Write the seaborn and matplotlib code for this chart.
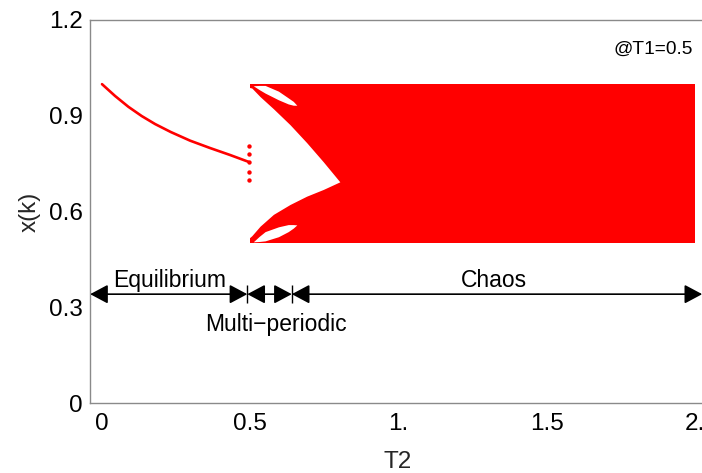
import matplotlib
matplotlib.use("Agg")
import matplotlib.pyplot as plt
import seaborn as sns

# ---------------- data ----------------
# equilibrium branch
eq_T2 = [0.0, 0.044, 0.089, 0.134, 0.179, 0.232, 0.297, 0.364, 0.432, 0.493]
eq_x = [0.999, 0.962, 0.928, 0.899, 0.874, 0.849, 0.822, 0.799, 0.777, 0.756]
# points at the onset of multi-periodic behaviour
mp_T2 = [0.497, 0.497, 0.497, 0.497, 0.497]
mp_x = [0.805, 0.780, 0.755, 0.725, 0.698]
# envelope of the chaotic attractor
chaos_T2 = [0.5, 2.0]
chaos_lo = [0.5, 0.5]
chaos_hi = [1.0, 1.0]
# empty wedge between the two bands
gap_T2 = [0.49, 0.505, 0.533, 0.578, 0.634, 0.690, 0.746, 0.802]
gap_lo = [0.512, 0.524, 0.554, 0.591, 0.622, 0.648, 0.669, 0.693]
gap_hi = [0.990, 0.987, 0.960, 0.922, 0.872, 0.816, 0.756, 0.693]
# empty "eyes" inside the bands
eye_T2 = [0.510, 0.530, 0.550, 0.595, 0.628, 0.645, 0.657]
eye_up_top = [0.994, 0.995, 0.995, 0.977, 0.956, 0.945, 0.933]
eye_up_bot = [0.994, 0.982, 0.971, 0.950, 0.937, 0.933, 0.933]
eye_lo_top = [0.505, 0.522, 0.537, 0.552, 0.559, 0.559, 0.558]
eye_lo_bot = [0.505, 0.506, 0.508, 0.521, 0.537, 0.548, 0.558]
# regime annotation
regime_bounds = [-0.04, 0.49, 0.64, 2.024]
regime_labels = ["Equilibrium", "Multi\u2212periodic", "Chaos"]
regime_label_T2 = [0.229, 0.586, 1.322]
regime_label_y = [0.3625, 0.2256, 0.3625]
arrow_y = 0.341
xticks = [0, 0.5, 1, 1.5, 2]
xticklabels = ["0", "0.5", "1.", "1.5", "2."]
yticks = [0, 0.3, 0.6, 0.9, 1.2]
yticklabels = ["0", "0.3", "0.6", "0.9", "1.2"]

# ---------------- drawing ----------------
sns.set_style("white")
plt.rcParams["font.family"] = ["Liberation Sans", "DejaVu Sans"]

RED = "#ff0000"
GRAY = "#8a8a8a"
FS = 16.5
TFS = 17.5

fig = plt.figure(figsize=(7.02, 4.73), dpi=100)
ax = fig.add_axes([90 / 702, 70 / 473, 630 / 702, 383 / 473])

ax.fill_between(chaos_T2, chaos_lo, chaos_hi, color=RED, lw=0, zorder=2)
ax.fill_between(gap_T2, gap_lo, gap_hi, color="white", lw=0, zorder=3)
ax.fill_between(eye_T2, eye_up_bot, eye_up_top, color="white", lw=0, zorder=3)
ax.fill_between(eye_T2, eye_lo_bot, eye_lo_top, color="white", lw=0, zorder=3)

sns.lineplot(x=eq_T2, y=eq_x, color=RED, lw=1.9, ax=ax, zorder=4)
sns.scatterplot(x=mp_T2, y=mp_x, color=RED, s=10, linewidth=0, ax=ax, zorder=4)

# regime arrows
for a, b in zip(regime_bounds[:-1], regime_bounds[1:]):
    ax.annotate("", xy=(b, arrow_y), xytext=(a, arrow_y),
                arrowprops=dict(arrowstyle="<|-|>,head_length=0.75,head_width=0.4",
                                color="black", lw=1.2, shrinkA=0, shrinkB=0,
                                mutation_scale=14.5),
                zorder=5, annotation_clip=False)
ax.plot(regime_bounds[1:3], [arrow_y] * 2, linestyle="none", marker="|",
        markersize=13, mew=1.0, color="black", zorder=6)
for lab, tx, ty in zip(regime_labels, regime_label_T2, regime_label_y):
    ax.text(tx, ty, lab, ha="center", va="baseline", fontsize=FS, color="black")

ax.text(1.993, 1.0955, "@T1=0.5", ha="right", va="baseline", fontsize=13.8, color="black")

ax.set_xlim(-0.0405, 2.084)
ax.set_ylim(0, 1.2)
ax.set_xticks(xticks)
ax.set_xticklabels(xticklabels)
ax.set_yticks(yticks)
ax.set_yticklabels(yticklabels)
ax.tick_params(axis="both", direction="in", length=4, width=1, color=GRAY,
               labelsize=TFS, labelcolor="black")
ax.tick_params(axis="x", pad=7)
ax.tick_params(axis="y", pad=5)
for sp in ax.spines.values():
    sp.set_color(GRAY)
    sp.set_linewidth(1.0)

ax.set_xlabel("T2", fontsize=TFS)
ax.set_ylabel("x(k)", fontsize=TFS)
ax.xaxis.set_label_coords((398 - 90) / 630, -(462 - 403) / 383)
ax.yaxis.set_label_coords((30 - 90) / 630, 0.5)
ax.xaxis.label.set_va("center")
ax.yaxis.label.set_va("center")

fig.savefig("out.png", dpi=100)
